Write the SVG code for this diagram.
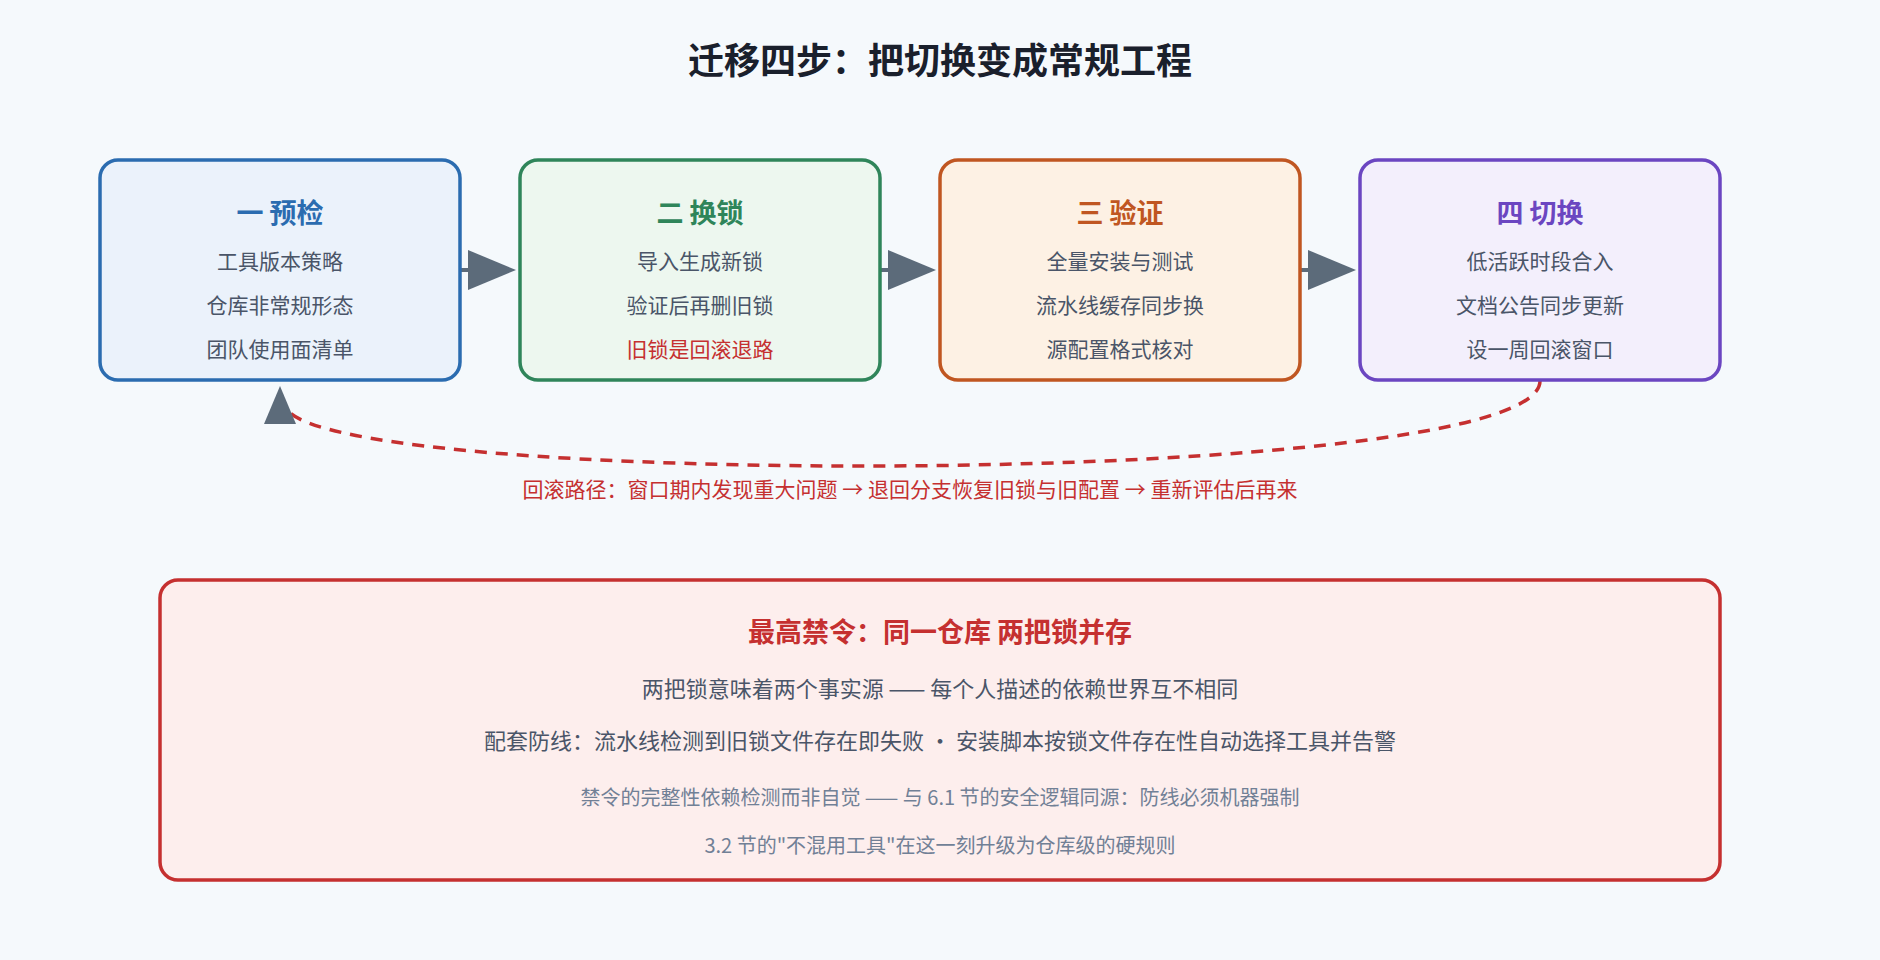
<svg xmlns="http://www.w3.org/2000/svg" width="1880" height="960" viewBox="0 0 1880 960">
<style>
text{font-family:"Noto Sans CJK SC","Noto Sans",sans-serif;text-anchor:middle;dominant-baseline:central}
.box{stroke-width:3.5}
.t{font-size:27px;font-weight:bold}
.l{font-size:21px;fill:#4a5568}
.r{fill:#c53030}
.m{font-size:22px;fill:#4a5568}
.s{font-size:20px;fill:#718096}
</style>
<defs>
<marker id="ah" markerWidth="10" markerHeight="10" refX="9" refY="5" orient="auto" markerUnits="userSpaceOnUse" viewBox="0 0 10 10"><path d="M0,0L10,5L0,10z" fill="#5c6b7a"/></marker>
</defs>
<rect width="1880" height="960" fill="#f5f9fc"/>
<text x="940" y="58" style="font-size:36px;font-weight:bold;fill:#1a202c">迁移四步：把切换变成常规工程</text>
<g id="connectors">
<g fill="#5c6b7a" stroke="#5c6b7a" stroke-width="4">
<line x1="460" y1="270" x2="470" y2="270"/><path d="M468,250L516,270L468,290z" stroke="none"/>
<line x1="880" y1="270" x2="890" y2="270"/><path d="M888,250L936,270L888,290z" stroke="none"/>
<line x1="1300" y1="270" x2="1310" y2="270"/><path d="M1308,250L1356,270L1308,290z" stroke="none"/>
</g>
<path d="M1540,381 C1540,490 300,490 285,405" fill="none" stroke="#c53030" stroke-width="3.5" stroke-dasharray="12,9"/>
<path d="M280,386L296,424L264,424z" fill="#5c6b7a"/>
<text x="910" y="488" style="font-size:21px;fill:#c53030">回滚路径：窗口期内发现重大问题 → 退回分支恢复旧锁与旧配置 → 重新评估后再来</text>
</g>
<g id="n1"><rect class="box" x="100" y="160" width="360" height="220" rx="18" fill="#ebf2fb" stroke="#2b6cb0"/>
<text class="t" x="280" y="211" fill="#2b6cb0">一 预检</text>
<text class="l" x="280" y="260">工具版本策略</text><text class="l" x="280" y="304">仓库非常规形态</text><text class="l" x="280" y="348">团队使用面清单</text></g>
<g id="n2"><rect class="box" x="520" y="160" width="360" height="220" rx="18" fill="#edf7ef" stroke="#2f855a"/>
<text class="t" x="700" y="211" fill="#2f855a">二 换锁</text>
<text class="l" x="700" y="260">导入生成新锁</text><text class="l" x="700" y="304">验证后再删旧锁</text><text class="l r" x="700" y="348">旧锁是回滚退路</text></g>
<g id="n3"><rect class="box" x="940" y="160" width="360" height="220" rx="18" fill="#fdf1e4" stroke="#c05621"/>
<text class="t" x="1120" y="211" fill="#c05621">三 验证</text>
<text class="l" x="1120" y="260">全量安装与测试</text><text class="l" x="1120" y="304">流水线缓存同步换</text><text class="l" x="1120" y="348">源配置格式核对</text></g>
<g id="n4"><rect class="box" x="1360" y="160" width="360" height="220" rx="18" fill="#f3effc" stroke="#6b46c1"/>
<text class="t" x="1540" y="211" fill="#6b46c1">四 切换</text>
<text class="l" x="1540" y="260">低活跃时段合入</text><text class="l" x="1540" y="304">文档公告同步更新</text><text class="l" x="1540" y="348">设一周回滚窗口</text></g>
<g id="n5"><rect class="box" x="160" y="580" width="1560" height="300" rx="18" fill="#fdeeed" stroke="#c53030"/>
<text class="t r" x="940" y="630">最高禁令：同一仓库 两把锁并存</text>
<text class="m" x="940" y="687">两把锁意味着两个事实源 —— 每个人描述的依赖世界互不相同</text>
<text class="m" x="940" y="739">配套防线：流水线检测到旧锁文件存在即失败 · 安装脚本按锁文件存在性自动选择工具并告警</text>
<text class="s" x="940" y="796">禁令的完整性依赖检测而非自觉 —— 与 6.1 节的安全逻辑同源：防线必须机器强制</text>
<text class="s" x="940" y="844">3.2 节的"不混用工具"在这一刻升级为仓库级的硬规则</text></g>
</svg>
